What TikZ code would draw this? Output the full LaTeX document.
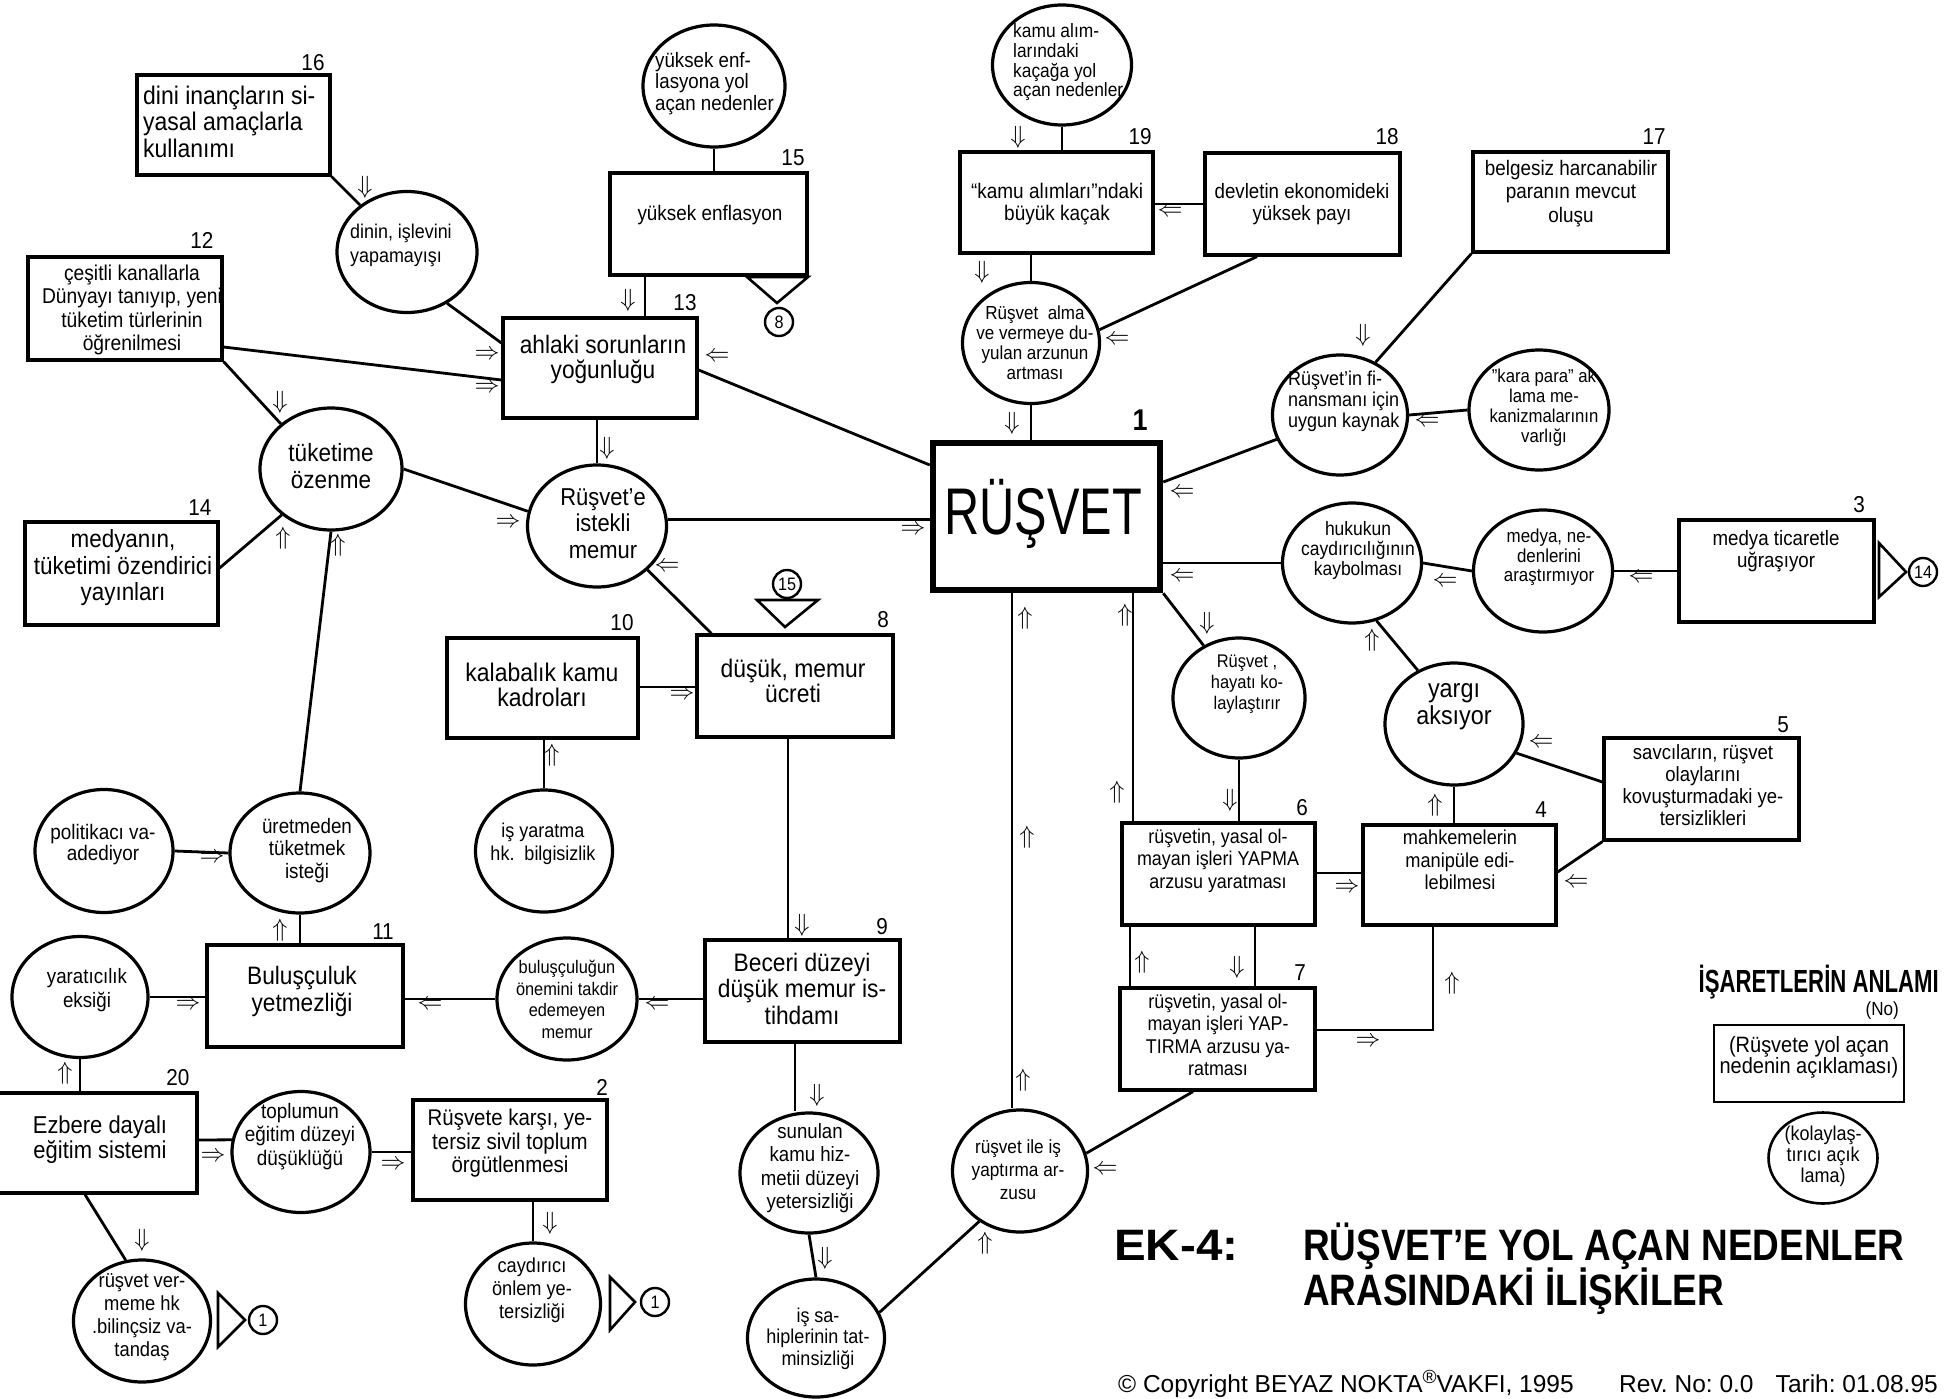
\documentclass[tikz,border=0pt]{standalone}
\usepackage{fontspec}
\usepackage{graphicx}
\setmainfont{Liberation Sans}[FakeStretch=0.9]
\newfontfamily\plainfont{Liberation Sans}
\usetikzlibrary{shapes.geometric,calc}
\newcommand\fsz[2]{\fontsize{#1}{#2}\selectfont}
\newcommand\arR{$\Rightarrow$}
\newcommand\arL{$\Leftarrow$}
\newcommand\arU{$\Uparrow$}
\newcommand\arD{$\Downarrow$}
\frenchspacing
\tikzset{
  box/.style={draw, rectangle, line width=3.2pt, inner sep=0pt},
  ell/.style={draw, ellipse, line width=3.2pt, inner sep=0pt},
  con/.style={line width=2.8pt},
  txt/.style={inner sep=0pt, align=center},
  nlbl/.style={inner sep=0pt, font=\fsz{23}{23}},
  arrg/.style={inner sep=0pt, font=\fsz{24.88}{25}},
  cnum/.style={draw, circle, fill=white, line width=2.4pt, inner sep=0pt, minimum size=28pt, font=\fsz{18}{18}},
  tri/.style={line width=2.6pt, line join=miter},
}
\begin{document}
\begin{tikzpicture}[x=1pt, y=-1pt]
\useasboundingbox (0,0) rectangle (1956,1399);
\path[fill=white] (0,0) rectangle (1956,1399);

% ---------------- boxes ----------------
\node[box, minimum width=193pt, minimum height=100pt] (b16) at (233.5,125) {};
\node[box, minimum width=194pt, minimum height=103pt] (b12) at (125,308.5) {};
\node[box, minimum width=197pt, minimum height=102pt] (b15) at (708.5,224) {};
\node[box, minimum width=194pt, minimum height=100pt] (b13) at (600,368) {};
\node[box, minimum width=193pt, minimum height=103pt] (b14) at (121.5,573.5) {};
\node[box, minimum width=191pt, minimum height=100pt] (b10) at (542.5,688) {};
\node[box, minimum width=196pt, minimum height=102pt] (b8) at (795,686) {};
\node[box, minimum width=196pt, minimum height=102pt] (b11) at (305,996) {};
\node[box, minimum width=202pt, minimum height=100pt] (b20) at (96,1143) {};
\node[box, minimum width=194pt, minimum height=100pt] (b2) at (510,1150) {};
\node[box, minimum width=195pt, minimum height=102pt] (b9) at (802.5,991) {};
\node[box, minimum width=193pt, minimum height=101pt] (b19) at (1056.5,202.5) {};
\node[box, minimum width=195pt, minimum height=102pt] (b18) at (1302.5,204) {};
\node[box, minimum width=195pt, minimum height=100pt] (b17) at (1570.5,202) {};
\node[box, line width=6.5pt, minimum width=227pt, minimum height=147pt] (R) at (1046.5,516.5) {};
\node[box, minimum width=195pt, minimum height=102pt] (b3) at (1776.5,571) {};
\node[box, minimum width=193pt, minimum height=102pt] (b6) at (1218.5,874) {};
\node[box, minimum width=193pt, minimum height=100pt] (b4) at (1459.5,875) {};
\node[box, minimum width=195pt, minimum height=102pt] (b5) at (1701.5,789) {};
\node[box, minimum width=195pt, minimum height=102pt] (b7) at (1217.5,1039) {};

% ---------------- ellipses ----------------
\node[ell, minimum width=140pt, minimum height=121pt] (cDin) at (407,252) {};
\node[ell, minimum width=142pt, minimum height=122pt] (cYuk) at (714,86) {};
\node[ell, minimum width=142pt, minimum height=122pt] (cTuk) at (331,469) {};
\node[ell, minimum width=139pt, minimum height=122pt] (cIst) at (597,526) {};
\node[ell, minimum width=137pt, minimum height=122pt] (cIsy) at (544,851) {};
\node[ell, minimum width=138pt, minimum height=123pt] (cPol) at (104,851) {};
\node[ell, minimum width=140pt, minimum height=120pt] (cUre) at (300,853) {};
\node[ell, minimum width=136pt, minimum height=121pt] (cYar) at (80,997) {};
\node[ell, minimum width=138pt, minimum height=121pt] (cTop) at (301,1152) {};
\node[ell, minimum width=137pt, minimum height=122pt] (cVer) at (142,1321) {};
\node[ell, minimum width=140pt, minimum height=122pt] (cBul) at (567,999) {};
\node[ell, minimum width=138pt, minimum height=120pt] (cSun) at (809,1173) {};
\node[ell, minimum width=137pt, minimum height=118pt] (cIss) at (816,1338) {};
\node[ell, minimum width=135pt, minimum height=122pt] (cCay) at (533,1304) {};
\node[ell, minimum width=139pt, minimum height=120pt] (cKam) at (1062,65) {};
\node[ell, minimum width=137pt, minimum height=121pt] (cAlm) at (1031,343) {};
\node[ell, minimum width=135pt, minimum height=120pt] (cFin) at (1340,415) {};
\node[ell, minimum width=140pt, minimum height=120pt] (cKar) at (1539,410) {};
\node[ell, minimum width=139pt, minimum height=120pt] (cHuk) at (1352,563) {};
\node[ell, minimum width=139pt, minimum height=122pt] (cMed) at (1543,571) {};
\node[ell, minimum width=132pt, minimum height=120pt] (cHay) at (1239,698) {};
\node[ell, minimum width=138pt, minimum height=122pt] (cYrg) at (1454,724) {};
\node[ell, minimum width=135pt, minimum height=122pt] (cIsi) at (1020,1171) {};

% ---------------- texts ----------------
\node[txt, align=left, anchor=west, font=\fsz{25.5}{26.5}] (t16) at (143,121.5) {dini inançların si-\\yasal amaçlarla\\kullanımı};
\node[txt, align=left, anchor=west, font=\fsz{19.9}{24}] (tDin) at (350,245) {dinin, işlevini\\yapamayışı};
\node[txt, font=\fsz{21.4}{23.5}] (t12) at (132,310) {çeşitli kanallarla\\Dünyayı tanıyıp, yeni\\tüketim türlerinin\\öğrenilmesi};
\node[txt, font=\fsz{21}{22}] (t15) at (710,215) {yüksek enflasyon};
\node[txt, align=left, anchor=west, font=\fsz{20.8}{21.5}] (tYuk) at (655,83.5) {yüksek enf-\\lasyona yol\\açan nedenler};
\node[txt, font=\fsz{25.2}{25}] (t13) at (603,359.5) {ahlaki sorunların\\yoğunluğu};
\node[txt, font=\fsz{25}{27}] (tTuk) at (331,466.5) {tüketime\\özenme};
\node[txt, font=\fsz{24.9}{26.5}] (t14) at (123,568) {medyanın,\\tüketimi özendirici\\yayınları};
\node[txt, font=\fsz{24.4}{26.5}] (tIst) at (603,523.5) {Rüşvet'e\\istekli\\memur};
\node[txt, font=\fsz{25.5}{25}] (t10) at (542,684.5) {kalabalık kamu\\kadroları};
\node[txt, font=\fsz{25.4}{25}] (t8) at (793,680.5) {düşük, memur\\ücreti};
\node[txt, font=\fsz{20}{23}] (tIsy) at (543,843.5) {iş yaratma\\hk.\ \ bilgisizlik};
\node[txt, font=\fsz{21}{21}] (tPol) at (103,845) {politikacı va-\\adediyor};
\node[txt, font=\fsz{20.9}{22.5}] (tUre) at (307,850.5) {üretmeden\\tüketmek\\isteği};
\node[txt, font=\fsz{25.2}{27}] (t11) at (302,991.5) {Buluşçuluk\\yetmezliği};
\node[txt, font=\fsz{20.8}{24}] (tYar) at (87,990) {yaratıcılık\\eksiği};
\node[txt, font=\fsz{24.4}{25}] (t20) at (100,1139.5) {Ezbere dayalı\\eğitim sistemi};
\node[txt, font=\fsz{21}{23.5}] (tTop) at (300,1136.5) {toplumun\\eğitim düzeyi\\düşüklüğü};
\node[txt, font=\fsz{22.7}{23.5}] (t2) at (510,1143.5) {Rüşvete karşı, ye-\\tersiz sivil toplum\\örgütlenmesi};
\node[txt, font=\fsz{20.4}{23}] (tVer) at (142,1317.5) {rüşvet ver-\\meme hk\\.bilinçsiz va-\\tandaş};
\node[txt, font=\fsz{18.2}{21.7}] (tBul) at (567,999.5) {buluşçuluğun\\önemini takdir\\edemeyen\\memur};
\node[txt, font=\fsz{25.3}{26.5}] (t9) at (802,988.5) {Beceri düzeyi\\düşük memur is-\\tihdamı};
\node[txt, font=\fsz{20.7}{23.5}] (tSun) at (810,1168) {sunulan\\kamu hiz-\\metii düzeyi\\yetersizliği};
\node[txt, font=\fsz{20}{21.5}] (tIss) at (818,1338.5) {iş sa-\\hiplerinin tat-\\minsizliği};
\node[txt, font=\fsz{20.2}{23}] (tCay) at (532,1290) {caydırıcı\\önlem ye-\\tersizliği};
\node[txt, align=left, anchor=west, font=\fsz{19.3}{19.7}] (tKam) at (1013,62.5) {kamu alım-\\larındaki\\kaçağa yol\\açan nedenler};
\node[txt, font=\fsz{21.1}{22}] (t19) at (1057,204) {“kamu alımları”ndaki\\büyük kaçak};
\node[txt, font=\fsz{20.8}{22}] (t18) at (1302,204) {devletin ekonomideki\\yüksek payı};
\node[txt, font=\fsz{18.9}{20}] (tAlm) at (1035,343) {Rüşvet\ \ alma\\ve vermeye du-\\yulan arzunun\\artması};
\node[txt, align=left, anchor=west, font=\fsz{20}{21}] (tFin) at (1288,401) {Rüşvet'in fi-\\nansmanı için\\uygun kaynak};
\node[txt, font=\fsz{21}{23.5}] (t17) at (1571,193.5) {belgesiz harcanabilir\\paranın mevcut\\oluşu};
\node[txt, font=\fsz{18.6}{20}] (tKar) at (1544,408) {"kara para" ak\\lama me-\\kanizmalarının\\varlığı};
\node[txt, font=\fsz{19.4}{20}] (tHuk) at (1358,550) {hukukun\\caydırıcılığının\\kaybolması};
\node[txt, font=\fsz{18.8}{19.5}] (tMed) at (1549,557.5) {medya, ne-\\denlerini\\araştırmıyor};
\node[txt, font=\fsz{20.8}{22}] (t3) at (1776,551) {medya ticaretle\\uğraşıyor};
\node[txt, font=\fsz{18.3}{21}] (tHay) at (1247,684) {Rüşvet ,\\hayatı ko-\\laylaştırır};
\node[txt, font=\fsz{19.9}{22.5}] (t6) at (1218,860.5) {rüşvetin, yasal ol-\\mayan işleri YAPMA\\arzusu yaratması};
\node[txt, font=\fsz{19.9}{22.5}] (t7) at (1218,1035) {rüşvetin, yasal ol-\\mayan işleri YAP-\\TIRMA arzusu ya-\\ratması};
\node[txt, font=\fsz{20.2}{22.5}] (t4) at (1460,860) {mahkemelerin\\manipüle edi-\\lebilmesi};
\node[txt, font=\fsz{26}{27}] (tYrg) at (1454,706.5) {yargı\\aksıyor};
\node[txt, font=\fsz{20.6}{22}] (t5) at (1703,785) {savcıların, rüşvet\\olaylarını\\kovuşturmadaki ye-\\tersizlikleri};
\node[txt, font=\fsz{19.1}{23}] (tIsi) at (1018,1170) {rüşvet ile iş\\yaptırma ar-\\zusu};
\node[inner sep=0pt, anchor=base, font=\fsz{66}{66}] (tR) at (1043,534) {\scalebox{0.82}[1]{RÜŞVET}};

% ---------------- number labels ----------------
\node[nlbl] (n16) at (313,63) {16};
\node[nlbl] (n12) at (202,240) {12};
\node[nlbl] (n15) at (793,158) {15};
\node[nlbl] (n13) at (685,303) {13};
\node[nlbl] (n14) at (200,508) {14};
\node[nlbl] (n10) at (622,623) {10};
\node[nlbl] (n8) at (883,620) {8};
\node[nlbl] (n11) at (383,932) {11};
\node[nlbl] (n20) at (178,1078) {20};
\node[nlbl] (n2) at (602,1087) {2};
\node[nlbl] (n9) at (882,927) {9};
\node[nlbl] (n19) at (1140,137) {19};
\node[nlbl] (n18) at (1387,137) {18};
\node[nlbl] (n17) at (1654,137) {17};
\node[nlbl] (n3) at (1859,505) {3};
\node[nlbl] (n6) at (1302,808) {6};
\node[nlbl] (n4) at (1541,810) {4};
\node[nlbl] (n5) at (1783,725) {5};
\node[nlbl] (n7) at (1300,973) {7};
\node[inner sep=0pt, font=\bfseries\fsz{30}{30}] (n1) at (1140,420) {1};

% ---------------- reference markers ----------------
\draw[tri] (747,277) -- (808,277) -- (777,303) -- cycle;
\node[cnum] (m8) at (779,322) {8};
\draw[tri] (757,600) -- (818,600) -- (785,627) -- cycle;
\node[cnum] (m15) at (787,584) {15};
\draw[tri] (1879,543) -- (1879,597) -- (1906,572) -- cycle;
\node[cnum] (m14) at (1923,572) {14};
\draw[tri] (218,1293) -- (218,1347) -- (245,1320) -- cycle;
\node[cnum] (m1a) at (263,1320) {1};
\draw[tri] (610,1277) -- (610,1330) -- (635,1302) -- cycle;
\node[cnum] (m1b) at (655,1302) {1};

% ---------------- connectors ----------------
\draw[con] (b16.south east) -- (cDin);
\draw[con] (cDin.-52) -- (b13.west |- 0,343);
\draw[con] (b12.east |- 0,347) -- (b13.west |- 0,380);
\draw[con] (b12.south east) -- (cTuk.138);
\draw[con] (cYuk.south) -- (cYuk.south |- b15.north);
\draw[con] (b15.south -| 645,0) -- (b13.north -| 645,0);
\draw[con] (b13.east |- 0,370) -- (R.west |- 0,465);
\draw[con] (b13.south -| cIst.north) -- (cIst.north);
\draw[con] (cTuk.east) -- (cIst.168);
\draw[con] (cIst.5) -- (R.west |- cIst.5);
\draw[con] (cIst.-41) -- ($(b8.north west)+(16,0)$);
\draw[con] (cTuk.south) -- (cUre.north);
\draw[con] (b14.east |- 0,568) -- (cTuk.223);
\draw[con] (b10.east |- 0,687) -- (b8.west |- 0,687);
\draw[con] (cIsy.north) -- (cIsy.north |- b10.south);
\draw[con] (b8.south -| 788,0) -- (b9.north -| 788,0);
\draw[con] (cPol.east) -- (cUre.west);
\draw[con] (cUre.south) -- (cUre.south |- b11.north);
\draw[con] (cYar.east) -- (b11.west |- cYar.east);
\draw[con] (cBul.west) -- (b11.east |- cBul.west);
\draw[con] (cBul.east) -- (b9.west |- cBul.east);
\draw[con] (cYar.south) -- (cYar.south |- b20.north);
\draw[con] (b20.east |- 0,1140) -- (cTop.170);
\draw[con] (cTop.east) -- (b2.west |- cTop.east);
\draw[con] (b20.south -| 85,0) -- (cVer.105);
\draw[con] (b2.south -| cCay.north) -- (cCay.north);
\draw[con] (b9.south -| 795,0) -- (cSun.north -| 795,0);
\draw[con] (cSun.south) -- (cIss.north);
\draw[con] (cIss.22) -- (cIsi.231);
\draw[con] (cKam.south) -- (cKam.south |- b19.north);
\draw[con] (b18.west) -- (b19.east |- b18.west);
\draw[con] (b19.south -| cAlm.north) -- (cAlm.north);
\draw[con] (b18.south -| 1257,0) -- (cAlm.11);
\draw[con] (cAlm.south) -- (cAlm.south |- R.north);
\draw[con] (b17.south west) -- (cFin.56);
\draw[con] (cKar.west) -- (cFin.east);
\draw[con] (cFin.201) -- (R.east |- 0,482);
\draw[con] (cHuk.west) -- (R.east |- cHuk.west);
\draw[con] (cMed.west) -- (cHuk.east);
\draw[con] (b3.west |- cMed.east) -- (cMed.east);
\draw[con] (cYrg.124) -- (cHuk.-67);
\draw[con] (b4.north -| cYrg.south) -- (cYrg.south);
\draw[con] (b5.west |- 0,782) -- (cYrg.-25);
\draw[con] (b5.south west) -- (b4.east |- 0,872);
\draw[con] (R.south -| 1012,0) -- (cIsi.north -| 1012,0);
\draw[con] (b6.north -| 1133,0) -- (R.south -| 1133,0);
\draw[con] (R.south east) -- (cHay.124);
\draw[con] (cHay.south) -- (cHay.south |- b6.north);
\draw[con] (b6.east |- 0,873) -- (b4.west |- 0,873);
\draw[con] (b6.south -| 1130,0) -- (b7.north -| 1130,0);
\draw[con] (b6.south -| 1255,0) -- (b7.north -| 1255,0);
\coordinate (k7) at (1433,1030);
\draw[con] (b7.east |- k7) -- (k7) -- (b4.south -| k7);
\draw[con] (b7.south -| 1193,0) -- (cIsi.15);

% ---------------- direction arrows ----------------
\node[arrg] (a1) at (365,187) {\arD};
\node[arrg] (a2) at (487,355) {\arR};
\node[arrg] (a3) at (487,388) {\arR};
\node[arrg] (a4) at (280,402) {\arD};
\node[arrg] (a5) at (628,300) {\arD};
\node[arrg] (a6) at (717,357) {\arL};
\node[arrg] (a7) at (607,448) {\arD};
\node[arrg] (a8) at (508,523) {\arR};
\node[arrg] (a9) at (913,530) {\arR};
\node[arrg] (a10) at (667,567) {\arL};
\node[arrg] (a11) at (338,545) {\arU};
\node[arrg] (a12) at (283,538) {\arU};
\node[arrg] (a13) at (682,695) {\arR};
\node[arrg] (a14) at (552,755) {\arU};
\node[arrg] (a15) at (802,925) {\arD};
\node[arrg] (a16) at (212,858) {\arR};
\node[arrg] (a17) at (280,930) {\arU};
\node[arrg] (a18) at (188,1005) {\arR};
\node[arrg] (a19) at (430,1005) {\arL};
\node[arrg] (a20) at (657,1005) {\arL};
\node[arrg] (a21) at (65,1073) {\arU};
\node[arrg] (a22) at (213,1157) {\arR};
\node[arrg] (a23) at (393,1165) {\arR};
\node[arrg] (a24) at (142,1240) {\arD};
\node[arrg] (a25) at (550,1223) {\arD};
\node[arrg] (a26) at (817,1095) {\arD};
\node[arrg] (a27) at (825,1258) {\arD};
\node[arrg] (a28) at (985,1243) {\arU};
\node[arrg] (a29) at (1018,137) {\arD};
\node[arrg] (a30) at (1170,212) {\arL};
\node[arrg] (a31) at (982,272) {\arD};
\node[arrg] (a32) at (1117,340) {\arL};
\node[arrg] (a33) at (1012,423) {\arD};
\node[arrg] (a34) at (1363,335) {\arD};
\node[arrg] (a35) at (1427,422) {\arL};
\node[arrg] (a36) at (1182,493) {\arL};
\node[arrg] (a37) at (1182,577) {\arL};
\node[arrg] (a38) at (1445,582) {\arL};
\node[arrg] (a39) at (1641,578) {\arL};
\node[arrg] (a40) at (1372,640) {\arU};
\node[arrg] (a41) at (1435,805) {\arU};
\node[arrg] (a42) at (1541,743) {\arL};
\node[arrg] (a43) at (1576,883) {\arL};
\node[arrg] (a44) at (1025,618) {\arU};
\node[arrg] (a45) at (1027,837) {\arU};
\node[arrg] (a46) at (1023,1080) {\arU};
\node[arrg] (a47) at (1125,615) {\arU};
\node[arrg] (a48) at (1117,792) {\arU};
\node[arrg] (a49) at (1207,623) {\arD};
\node[arrg] (a50) at (1230,800) {\arD};
\node[arrg] (a51) at (1347,888) {\arR};
\node[arrg] (a52) at (1142,962) {\arU};
\node[arrg] (a53) at (1237,967) {\arD};
\node[arrg] (a54) at (1368,1042) {\arR};
\node[arrg] (a55) at (1452,983) {\arU};
\node[arrg] (a56) at (1105,1170) {\arL};

% ---------------- legend ----------------
\node[anchor=base east, inner sep=0pt, font=\bfseries\fsz{32}{32}] (leg1) at (1939,992) {\scalebox{0.77}[1]{İŞARETLERİN ANLAMI}};
\node[anchor=base east, inner sep=0pt, font=\fsz{19}{19}] (leg2) at (1899,1015) {(No)};
\node[box, line width=2.8pt, minimum width=190pt, minimum height=77pt] (leg) at (1809,1063.5) {};
\node[txt, font=\fsz{22.2}{21.5}] (legt) at (1809,1057.5) {(Rüşvete yol açan\\nedenin açıklaması)};
\node[ell, line width=2.6pt, minimum width=109pt, minimum height=91pt] (legc) at (1823,1158) {};
\node[txt, font=\fsz{20}{21}] (legct) at (1823,1156) {(kolaylaş-\\tırıcı açık\\lama)};

% ---------------- title and footer ----------------
\node[anchor=base west, inner sep=0pt, font=\bfseries\fsz{44}{44}] (ek) at (1114,1260) {\scalebox{1.2}[1]{EK-4:}};
\node[anchor=base west, inner sep=0pt, font=\bfseries\fsz{44}{44}] (tt1) at (1303,1260) {\scalebox{0.933}[1]{RÜŞVET'E YOL AÇAN NEDENLER}};
\node[anchor=base west, inner sep=0pt, font=\bfseries\fsz{44}{44}] (tt2) at (1303,1305) {\scalebox{0.933}[1]{ARASINDAKİ İLİŞKİLER}};
\node[anchor=base west, inner sep=0pt, font=\plainfont\fsz{24.5}{25}] (cp1) at (1118,1392) {© Copyright BEYAZ NOKTA\raisebox{9pt}{\fsz{19}{19}®}VAKFI, 1995};
\node[anchor=base west, inner sep=0pt, font=\plainfont\fsz{24.5}{25}] (cp2) at (1619,1392) {Rev. No: 0.0};
\node[anchor=base east, inner sep=0pt, font=\plainfont\fsz{24.5}{25}] (cp3) at (1938,1392) {Tarih: 01.08.95};
\end{tikzpicture}
\end{document}
